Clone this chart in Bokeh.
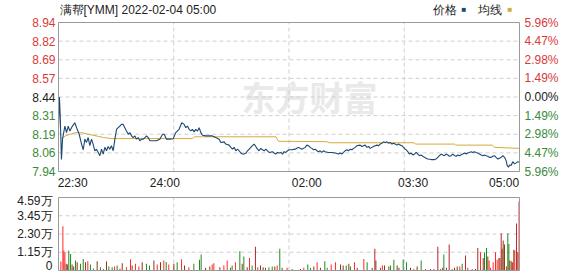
from bokeh.plotting import figure
from bokeh.models import Range1d, Label
from bokeh.layouts import column
from bokeh.embed import file_html
from bokeh.resources import INLINE

# ---------------- data ----------------
title_text = "满帮[YMM] 2022-02-04 05:00"
prev_close = 8.44

price_tick_values = [8.94, 8.815, 8.69, 8.565, 8.44, 8.315, 8.19, 8.065, 7.94]
price_tick_labels = ["8.94", "8.82", "8.69", "8.57", "8.44", "8.31", "8.19", "8.06", "7.94"]
pct_tick_labels = ["5.96%", "4.47%", "2.98%", "1.49%", "0.00%", "1.49%", "2.98%", "4.47%", "5.96%"]

session_start, session_end = 0, 390
time_label_pos = [12, 90, 210, 300, 377]
time_labels = ["22:30", "24:00", "02:00", "03:30", "05:00"]
time_grid = [97.5, 195, 292.5]

vol_tick_values = [0, 11475, 22950, 34425, 45900]
vol_tick_labels = ["0", "1.15万", "2.30万", "3.45万", "4.59万"]

price_min = [0.0, 0.8, 1.5, 2.5, 3.4, 5.4, 6.8, 8.2, 9.6, 11.8, 13.8, 15.8, 17.5, 19.5, 20.9, 22.3, 23.7, 25.1, 26.5, 27.9,
             29.3, 30.7, 32.1, 33.6, 35.0, 36.4, 37.8, 39.2, 40.6, 42.0, 43.4, 44.8, 46.3, 47.7, 49.1, 50.5, 51.9, 53.3, 54.7, 56.1,
             57.5, 59.0, 60.4, 61.8, 63.2, 64.6, 66.0, 67.4, 68.8, 70.2, 71.7, 73.1, 74.5, 75.9, 77.3, 80.1, 82.9, 85.7, 88.0, 89.4,
             91.4, 94.2, 97.0, 99.2, 102.0, 104.3, 106.3, 107.7, 109.1, 110.5, 111.9, 113.3, 114.7, 116.1, 117.6, 119.0, 120.4, 121.8, 124.6, 130.2,
             133.0, 135.9, 137.3, 140.1, 141.5, 144.3, 145.8, 147.2, 148.6, 150.0, 151.4, 152.8, 154.2, 155.6, 157.0, 158.4, 159.9, 161.3, 162.7, 164.1,
             165.5, 166.9, 168.3, 169.7, 171.1, 172.5, 174.0, 175.4, 176.8, 178.2, 181.0, 182.4, 183.8, 185.2, 186.6, 188.1, 189.5, 190.9, 192.3, 193.7,
             195.1, 197.4, 200.2, 203.1, 205.9, 208.7, 210.1, 211.5, 212.9, 214.3, 215.8, 217.2, 218.6, 220.0, 221.4, 222.8, 224.2, 225.6, 228.4, 231.3,
             234.1, 236.9, 238.3, 239.7, 241.1, 242.5, 243.9, 245.4, 246.8, 248.2, 249.6, 251.0, 252.4, 255.2, 256.6, 258.0, 259.5, 260.9, 262.3, 263.7,
             265.1, 266.5, 267.9, 269.3, 270.7, 272.2, 273.6, 275.0, 276.4, 277.8, 279.2, 280.6, 282.0, 283.4, 284.8, 286.3, 287.7, 289.1, 290.5, 291.9,
             293.3, 294.1, 295.5, 296.9, 298.3, 299.8, 301.2, 302.6, 304.0, 305.4, 306.8, 308.2, 309.6, 311.0, 312.4, 315.3, 318.1, 319.5, 320.9, 322.3,
             323.7, 325.1, 326.5, 327.9, 329.4, 330.8, 332.2, 333.6, 335.0, 336.4, 337.8, 339.2, 340.6, 342.0, 343.5, 344.9, 346.3, 347.7, 349.1, 350.5,
             351.9, 353.3, 354.7, 356.1, 357.6, 359.0, 360.4, 361.8, 363.2, 364.6, 366.0, 367.4, 368.8, 370.2, 371.7, 373.1, 374.5, 375.9, 377.3, 378.7,
             379.6, 380.7, 381.5, 382.9, 384.3, 385.8, 387.2, 388.6, 390.0]
price_val = [8.23, 8.44, 8.30, 8.02, 8.157, 8.245, 8.201, 8.245, 8.212, 8.245, 8.267, 8.223, 8.19, 8.124, 8.086, 8.157, 8.135, 8.168, 8.113, 8.157,
             8.124, 8.079, 8.09, 8.068, 8.046, 8.09, 8.057, 8.102, 8.079, 8.108, 8.09, 8.113, 8.079, 8.157, 8.223, 8.234, 8.245, 8.256, 8.256, 8.234,
             8.212, 8.19, 8.201, 8.179, 8.168, 8.179, 8.157, 8.168, 8.146, 8.157, 8.157, 8.168, 8.179, 8.168, 8.146, 8.146, 8.146, 8.157, 8.19, 8.19,
             8.157, 8.157, 8.16, 8.201, 8.223, 8.267, 8.256, 8.234, 8.245, 8.223, 8.212, 8.223, 8.206, 8.223, 8.212, 8.234, 8.201, 8.183, 8.179, 8.179,
             8.168, 8.157, 8.135, 8.139, 8.124, 8.117, 8.102, 8.09, 8.102, 8.079, 8.09, 8.079, 8.064, 8.057, 8.057, 8.062, 8.079, 8.09, 8.102, 8.113,
             8.124, 8.108, 8.09, 8.079, 8.095, 8.086, 8.079, 8.09, 8.079, 8.068, 8.073, 8.064, 8.057, 8.068, 8.064, 8.068, 8.057, 8.073, 8.068, 8.079,
             8.086, 8.086, 8.09, 8.102, 8.09, 8.102, 8.117, 8.113, 8.102, 8.095, 8.086, 8.09, 8.079, 8.073, 8.079, 8.068, 8.079, 8.073, 8.068, 8.068,
             8.064, 8.057, 8.064, 8.057, 8.068, 8.079, 8.086, 8.079, 8.09, 8.086, 8.095, 8.102, 8.113, 8.117, 8.108, 8.113, 8.117, 8.102, 8.108, 8.095,
             8.102, 8.108, 8.113, 8.117, 8.113, 8.124, 8.13, 8.139, 8.135, 8.139, 8.13, 8.135, 8.124, 8.13, 8.124, 8.117, 8.124, 8.117, 8.113, 8.102,
             8.09, 8.086, 8.073, 8.057, 8.064, 8.051, 8.057, 8.068, 8.057, 8.046, 8.051, 8.042, 8.035, 8.029, 8.024, 8.02, 8.02, 8.024, 8.035, 8.046,
             8.057, 8.051, 8.046, 8.057, 8.051, 8.042, 8.046, 8.057, 8.046, 8.042, 8.051, 8.046, 8.053, 8.057, 8.064, 8.057, 8.064, 8.068, 8.073, 8.068,
             8.073, 8.068, 8.064, 8.057, 8.051, 8.046, 8.051, 8.046, 8.042, 8.035, 8.035, 8.042, 8.046, 8.035, 8.024, 8.029, 8.035, 8.046, 8.035, 8.013,
             7.98, 7.969, 7.984, 7.98, 8.006, 7.991, 7.998, 8.006, 8.002]

avg_min = [2.5, 6, 10, 14, 20, 25, 32, 38, 45, 113, 115, 184, 186, 227, 229, 301, 302, 335, 336, 367, 369, 390]
avg_val = [8.16, 8.18, 8.19, 8.20, 8.20, 8.19, 8.179, 8.168, 8.161, 8.161, 8.173, 8.173, 8.143, 8.14, 8.133, 8.133,
           8.124, 8.124, 8.117, 8.117, 8.102, 8.095]

vol_min = [2, 3.7, 4.5, 5.4, 6.5, 7.5, 8.7, 10.2, 11.5, 12.8, 14.4, 15.8, 18.6, 20.9, 22.8, 24.8, 27, 29.5, 32.7, 35.5,
           38, 40.6, 42.6, 45.4, 47.4, 49.6, 52, 53.9, 57.5, 60.9, 62.3, 65.1, 68, 70.8, 74.4, 77, 80.7, 83.5, 86.3, 89.1,
           91.1, 93.3, 97.6, 100.4, 104.1, 106.6, 110.3, 114.5, 119.3, 120.7, 124.4, 128, 130, 131.4, 136.5, 139.9, 142.7, 145.5, 146.9, 149.7,
           153.4, 155.4, 156.8, 159.6, 161.6, 163.8, 166.6, 168.6, 170.9, 173.1, 175.1, 178, 180.8, 183, 185, 187.2, 189.2, 193.4, 197.7, 204.7,
           207.5, 210.9, 213.2, 216, 218.8, 221.6, 225.3, 227.3, 230.7, 234.3, 238.6, 240.8, 243.4, 245.6, 247, 250.4, 252.7, 258.3, 261.1, 265.4,
           267.6, 268.5, 272.4, 274, 275.8, 279.5, 280.9, 283.7, 286.5, 288, 291.6, 294.4, 297.8, 300.6, 303.4, 306.8, 310.5, 314.7, 317.5, 320.9,
           323.2, 325, 326, 328.2, 330.5, 333, 335, 337.3, 339.5, 341.5, 344.3, 346.3, 350, 352.8, 354.7, 357, 359.3, 360.4, 362.1, 363.2,
           364.3, 365.5, 367.7, 369.7, 371.1, 372.5, 373.4, 374.5, 375.3, 376.2, 377.3, 379, 380.1, 381, 381.8, 383, 384.1, 385.2, 386, 387.5,
           388.6, 389.6]
vol_val = [5600, 27800, 12500, 11500, 4200, 3800, 12500, 10400, 3800, 2500, 6300, 5200, 4200, 7300, 5200, 5800, 3800, 1200, 5800, 2100,
           1000, 5600, 2500, 2100, 2500, 3100, 1200, 4600, 2100, 7100, 3100, 4200, 2500, 5200, 4200, 3100, 6300, 3800, 5200, 6300,
           5400, 3800, 4200, 5200, 7100, 3100, 2100, 4200, 6700, 10000, 1700, 2500, 3800, 4600, 2100, 3100, 6300, 1700, 3100, 5200,
           12100, 4200, 8800, 2100, 7900, 3100, 15000, 2100, 3100, 2100, 1700, 2100, 2500, 2500, 3100, 13600, 1700, 1700, 1000, 1000,
           1700, 3800, 1700, 2500, 5200, 1700, 5800, 1700, 3800, 5200, 3800, 3100, 3100, 4200, 2500, 5200, 1700, 7300, 5200, 1700,
           13600, 6300, 1700, 3100, 3100, 2500, 3100, 6700, 3100, 1700, 6900, 5200, 1700, 1000, 2500, 6300, 1000, 1000, 1000, 15000,
           1000, 1700, 10000, 1700, 16300, 1000, 1700, 2500, 2500, 4200, 9400, 1700, 1000, 1000, 14200, 11500, 7900, 11500, 14200, 8800,
           6300, 1700, 5200, 11500, 6700, 7900, 7900, 23400, 13600, 18800, 16300, 2500, 23400, 16700, 6300, 5800, 5200, 13100, 12500, 29600,
           11500, 43400]
vol_kind = ["r", "r", "r", "r", "b", "b", "g", "g", "b", "b", "g", "b", "g", "g", "b", "r", "g", "g", "b", "g",
            "r", "b", "g", "g", "r", "g", "r", "b", "r", "r", "b", "r", "r", "b", "g", "g", "b", "r", "b", "r",
            "g", "r", "b", "g", "r", "b", "r", "g", "g", "g", "b", "b", "r", "r", "b", "r", "r", "g", "g", "r",
            "g", "b", "g", "b", "r", "g", "d", "r", "b", "b", "b", "g", "g", "b", "r", "g", "b", "r", "r", "b",
            "r", "g", "g", "b", "r", "b", "g", "g", "r", "r", "b", "b", "g", "b", "g", "r", "b", "r", "g", "b",
            "d", "b", "r", "r", "b", "b", "g", "g", "b", "b", "g", "g", "b", "r", "b", "g", "r", "b", "r", "d",
            "r", "b", "g", "b", "d", "r", "b", "b", "r", "g", "d", "r", "r", "b", "d", "r", "b", "g", "g", "b",
            "r", "r", "r", "r", "r", "r", "b", "d", "b", "b", "b", "r", "g", "g", "b", "b", "r", "b", "r", "d",
            "b", "r"]

# ---------------- styles / layout ----------------
FONT = "Liberation Sans"
RED = "#d93a3a"
GREEN = "#3a8a3a"
BLACK = "#222222"
GRID = "#cfcfcf"
BORDER = "#9a9a9a"
PRICE_C = "#1c4873"
AVG_C = "#d4aa3c"
kind_color = {"r": "#ff2a2a", "d": "#b8262a", "g": "#228b22", "b": "#8a3a12"}
vol_color = [kind_color[k] for k in vol_kind]

W, H = 578, 276
BOX_L, BOX_R = 58, 519          # pixel edges of both plot boxes
BOX_T, BOX_B = 22, 171          # price box top/bottom (pixels)
P_H = 190                       # price figure height
V_T, V_B = 197, 270             # volume box top/bottom (absolute pixels)
px_per_min = (BOX_R - BOX_L) / (session_end - session_start)
ymax, ymin = price_tick_values[0], price_tick_values[-1]
px_per_unit = (BOX_B - BOX_T) / (ymax - ymin)

x0 = session_start - BOX_L / px_per_min
x1 = session_end + (W - BOX_R) / px_per_min
y1 = ymax + BOX_T / px_per_unit
y0 = ymin - (P_H - BOX_B) / px_per_unit

V_H = H - P_H
vmax, vmin = vol_tick_values[-1], vol_tick_values[0]
v_px_per_unit = (V_B - V_T) / (vmax - vmin)
vy1 = vmax + (V_T - P_H) / v_px_per_unit
vy0 = vmin - (V_H - (V_B - P_H)) / v_px_per_unit


def txt(fig, x, y, s, color=BLACK, align="left", size="12px", font=FONT):
    fig.add_layout(Label(x=x, y=y, text=s, text_align=align, text_baseline="middle",
                         text_font=font, text_font_size=size, text_color=color))


# ---------------- price panel ----------------
p = figure(width=W, height=P_H, x_range=Range1d(x0, x1), y_range=Range1d(y0, y1),
           output_backend="svg", toolbar_location=None, x_axis_location=None, y_axis_location=None,
           min_border_left=0, min_border_right=0, min_border_top=0, min_border_bottom=0)
p.grid.visible = False
p.outline_line_color = None
p.background_fill_color = "white"
p.border_fill_color = "white"

# watermark
p.add_layout(Label(x=(309 - BOX_L) / px_per_min, y=8.445, text="东方财富", text_align="center",
                   text_baseline="middle", text_font="Noto Sans CJK SC", text_font_style="bold",
                   text_font_size="34px", text_color="#e9e9e9", level="underlay"))

inner_p = price_tick_values[1:-1]
p.segment(x0=[session_start] * len(inner_p), x1=[session_end] * len(inner_p), y0=inner_p, y1=inner_p,
          line_color=GRID, line_dash="4 3", line_width=1)
p.segment(x0=time_grid, x1=time_grid, y0=[ymin] * len(time_grid), y1=[ymax] * len(time_grid),
          line_color=GRID, line_dash="4 3", line_width=1)

p.line(avg_min, avg_val, line_color=AVG_C, line_width=1)
p.line(price_min, price_val, line_color=PRICE_C, line_width=1.1)

p.quad(left=[session_start], right=[session_end], bottom=[ymin], top=[ymax],
       fill_color=None, line_color=BORDER, line_width=1)

lab_x_left = session_start - 3 / px_per_min
lab_x_right = session_end + 5 / px_per_min
for val, s, pc in zip(price_tick_values, price_tick_labels, pct_tick_labels):
    if val > prev_close + 1e-9:
        c = RED
    elif val < prev_close - 1e-9:
        c = GREEN
    else:
        c = BLACK
    txt(p, lab_x_left, val, s, c, "right")
    txt(p, lab_x_right, val, pc, c, "left")

# time labels under the price box
time_y = ymin - 11 / px_per_unit
for t, s in zip(time_label_pos, time_labels):
    txt(p, t, time_y, s, BLACK, "center")

# title and legend row
title_y = ymax + 13 / px_per_unit
txt(p, session_start + 1 / px_per_min, title_y, title_text)
txt(p, (432 - BOX_L) / px_per_min, title_y, "价格")
txt(p, (461 - BOX_L) / px_per_min, title_y, "■", PRICE_C, "left", "8px")
txt(p, (477 - BOX_L) / px_per_min, title_y, "均线")
txt(p, (507 - BOX_L) / px_per_min, title_y, "■", AVG_C, "left", "8px")

# ---------------- volume panel ----------------
v = figure(width=W, height=V_H, x_range=Range1d(x0, x1), y_range=Range1d(vy0, vy1),
           output_backend="svg", toolbar_location=None, x_axis_location=None, y_axis_location=None,
           min_border_left=0, min_border_right=0, min_border_top=0, min_border_bottom=0)
v.grid.visible = False
v.outline_line_color = None
v.background_fill_color = "white"
v.border_fill_color = "white"

inner_v = vol_tick_values[1:-1]
v.segment(x0=[session_start] * len(inner_v), x1=[session_end] * len(inner_v), y0=inner_v, y1=inner_v,
          line_color=GRID, line_dash="4 3", line_width=1)
v.segment(x0=time_grid, x1=time_grid, y0=[vmin] * len(time_grid), y1=[vmax] * len(time_grid),
          line_color=GRID, line_dash="4 3", line_width=1)

v.vbar(x=vol_min, top=vol_val, width=0.85, color=vol_color, line_width=0)

v.quad(left=[session_start], right=[session_end], bottom=[vmin], top=[vmax],
       fill_color=None, line_color=BORDER, line_width=1)

# keep the edge labels inside the canvas: top one nudged down, bottom one nudged up
nudge_px = {vol_tick_values[0]: 5, vol_tick_values[-1]: -3}
for val, s in zip(vol_tick_values, vol_tick_labels):
    y = val + nudge_px.get(val, 0) / v_px_per_unit
    txt(v, session_start - 6 / px_per_min, y, s, BLACK, "right")

layout = column(p, v, spacing=0)
open("out.html", "w").write(file_html(layout, INLINE))
